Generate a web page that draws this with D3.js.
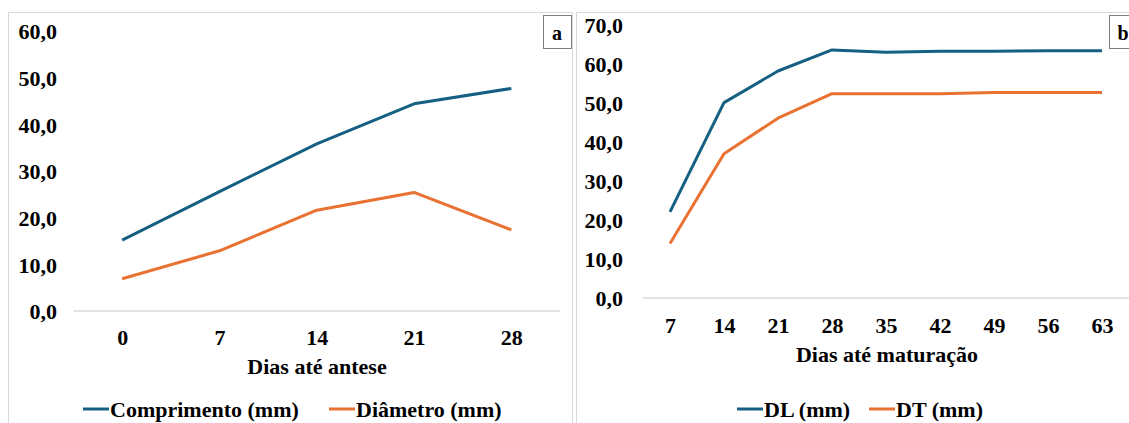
<!DOCTYPE html>
<html><head><meta charset="utf-8">
<script src="https://cdn.jsdelivr.net/npm/d3@7"></script>
<style>body{margin:0;background:#fff;} svg text{font-family:'Liberation Serif','Times New Roman',serif;font-weight:bold;}</style>
</head><body>
<svg id="c" width="1129" height="423"></svg>
<script>
// Panel a data
const daysA = ["0","7","14","21","28"];
const comprimento = [15.2, 25.6, 35.8, 44.4, 47.7];
const diametro = [6.9, 12.9, 21.6, 25.4, 17.4];
const ticksA = [0,10,20,30,40,50,60];
// Panel b data
const daysB = ["7","14","21","28","35","42","49","56","63"];
const dl = [22.1, 50.1, 58.2, 63.6, 63.0, 63.3, 63.3, 63.4, 63.4];
const dt = [14.0, 37.0, 46.1, 52.4, 52.4, 52.4, 52.7, 52.7, 52.7];
const ticksB = [0,10,20,30,40,50,60,70];

const BLUE = "#156082", ORANGE = "#E97132";
const FS = "22px";
const svg = d3.select("#c");
const fmt = v => d3.format(".1f")(v).replace(".", ",");

function panel(o) {
  const g = svg.append("g");
  g.append("rect").attr("x", o.bx).attr("y", o.by).attr("width", o.bw).attr("height", o.bh)
    .attr("fill", "none").attr("stroke", "#d9d9d9").attr("stroke-width", 1);
  const x = d3.scalePoint().domain(o.cats).range([o.x0, o.x1]).padding(0.5);
  const y = d3.scaleLinear().domain([0, o.ymax]).range([o.y0, o.y1]);
  g.append("line").attr("x1", o.x0).attr("x2", o.x1).attr("y1", y(0)).attr("y2", y(0))
    .attr("stroke", "#d9d9d9").attr("stroke-width", 1.3);
  const ya = d3.axisLeft(y).tickValues(o.yticks).tickFormat(fmt).tickSize(0).tickPadding(0);
  const yg = g.append("g").attr("transform", `translate(${o.ylabX},0)`).call(ya);
  yg.select(".domain").remove();
  yg.attr("font-family", null).attr("font-size", null);
  yg.selectAll("text").style("font-size", FS).attr("fill", "#000").attr("dy", "0.35em");
  const xa = d3.axisBottom(x).tickSize(0).tickPadding(0);
  const xg = g.append("g").attr("transform", `translate(0,${o.xlabY})`).call(xa);
  xg.select(".domain").remove();
  xg.attr("font-family", null).attr("font-size", null);
  xg.selectAll("text").style("font-size", FS).attr("fill", "#000").attr("dy", "0.35em");
  g.append("text").attr("x", o.titleX).attr("y", o.titleY).attr("text-anchor", "middle")
    .attr("dy", "0.35em").style("font-size", FS).text(o.title);
  const line = d3.line().x((d, i) => x(o.cats[i])).y(d => y(d));
  o.series.forEach(s => {
    g.append("path").datum(s.values).attr("d", line).attr("fill", "none")
      .attr("stroke", s.color).attr("stroke-width", 3).attr("stroke-linejoin", "round");
  });
  o.series.forEach(s => {
    g.append("line").attr("x1", s.lx).attr("x2", s.lx + 26).attr("y1", o.legY).attr("y2", o.legY)
      .attr("stroke", s.color).attr("stroke-width", 3);
    g.append("text").attr("x", s.lx + 27).attr("y", o.legY).attr("dy", "0.35em")
      .style("font-size", FS).text(s.name);
  });
  g.append("rect").attr("x", o.boxX).attr("y", 15.5).attr("width", 28).attr("height", 33)
    .attr("fill", "#fff").attr("stroke", "#7f7f7f").attr("stroke-width", 1);
  g.append("text").attr("x", o.boxX + 13.5).attr("y", 33).attr("text-anchor", "middle")
    .attr("dy", "0.35em").style("font-size", "20px").text(o.label);
}

panel({
  bx: 8.5, by: 12.5, bw: 564, bh: 430,
  cats: daysA, ymax: 60, yticks: ticksA,
  x0: 73.5, x1: 560, y0: 311, y1: 31,
  ylabX: 57, xlabY: 337, title: "Dias até antese", titleX: 317, titleY: 366,
  series: [
    {name: "Comprimento (mm)", values: comprimento, color: BLUE, lx: 83},
    {name: "Diâmetro (mm)", values: diametro, color: ORANGE, lx: 329}
  ],
  legY: 409, boxX: 543.5, label: "a"
});
panel({
  bx: 576.5, by: 12.5, bw: 600, bh: 430,
  cats: daysB, ymax: 70, yticks: ticksB,
  x0: 643, x1: 1129, y0: 298, y1: 25,
  ylabX: 623, xlabY: 325, title: "Dias até maturação", titleX: 887, titleY: 354,
  series: [
    {name: "DL (mm)", values: dl, color: BLUE, lx: 737},
    {name: "DT (mm)", values: dt, color: ORANGE, lx: 869}
  ],
  legY: 409, boxX: 1109.5, label: "b"
});
</script>
</body></html>
